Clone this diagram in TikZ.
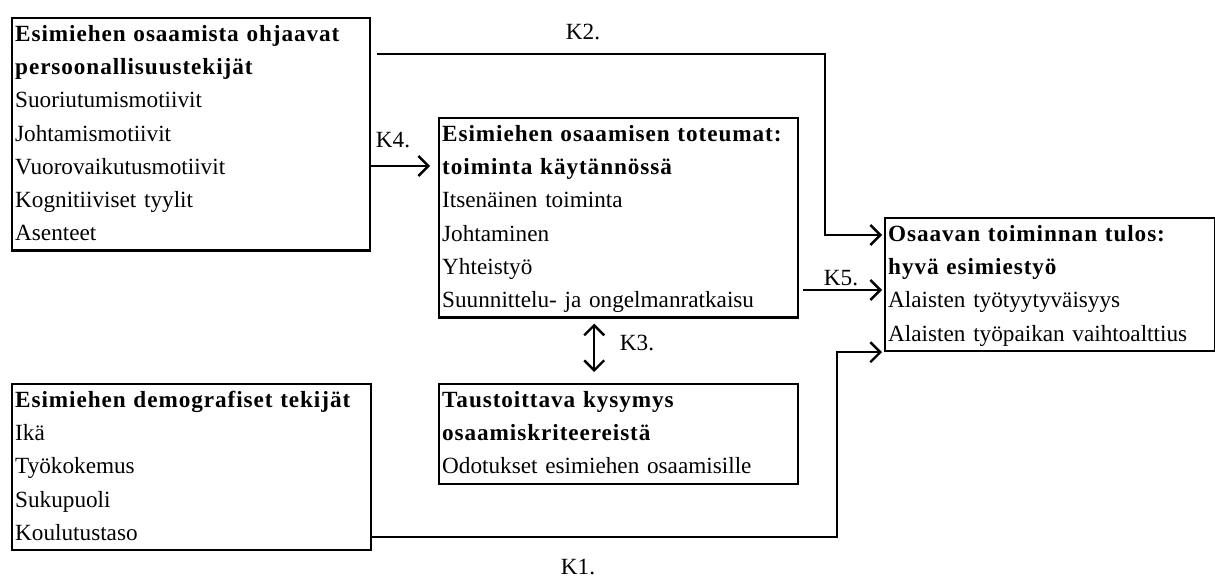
\documentclass[tikz,border=0pt]{standalone}
\usepackage{fontspec}
\setmainfont{Liberation Serif}
\newfontfamily\headfont[LetterSpace=4]{Liberation Serif}
\newcommand{\hd}[1]{{\headfont\bfseries #1}}
\usetikzlibrary{arrows.meta}

\begin{document}
\begin{tikzpicture}[x=0.5pt, y=-0.5pt,
    every node/.style={font=\fontsize{11.6}{16.6}\selectfont},
    box/.style={draw, line width=1.2pt, anchor=north west, align=left, inner xsep=1.5pt, inner ysep=0pt},
    arr/.style={line width=1.2pt, -{Straight Barb[length=5pt, width=10pt]}},
    arrd/.style={line width=1.2pt, {Straight Barb[length=5pt, width=10pt]}-{Straight Barb[length=5pt, width=10pt]}}]
      \useasboundingbox (0,0) rectangle (1215,577);
      \node (pers) at (11,17) [box, text width=176pt] {\strut\hd{Esimiehen osaamista ohjaavat}\\\hd{persoonallisuustekijät}\\Suoriutumismotiivit\\Johtamismotiivit\\Vuorovaikutusmotiivit\\Kognitiiviset tyylit\\Asenteet\strut};
      \node (tot) at (438,117) [box, text width=176.5pt] {\strut\hd{Esimiehen osaamisen toteumat:}\\\hd{toiminta käytännössä}\\Itsenäinen toiminta\\Johtaminen\\Yhteistyö\\Suunnittelu- ja ongelmanratkaisu\strut};
      \node (tulos) at (884,217) [box, text width=162pt] {\strut\hd{Osaavan toiminnan tulos:}\\\hd{hyvä esimiestyö}\\Alaisten työtyytyväisyys\\Alaisten työpaikan vaihtoalttius\strut};
      \node (demo) at (11,383) [box, text width=176.5pt] {\strut\hd{Esimiehen demografiset tekijät}\\Ikä\\Työkokemus\\Sukupuoli\\Koulutustaso\strut};
      \node (taust) at (438,383) [box, text width=176.5pt] {\strut\hd{Taustoittava kysymys}\\\hd{osaamiskriteereistä}\\Odotukset esimiehen osaamisille\strut};
      \coordinate (k2s) at (377,54);
      \coordinate (k4s) at (369,166);
      \coordinate (k5s) at (797,290);
      \coordinate (k1s) at (370,537);
      \draw[arr, shorten >=1pt] (k2s) -- (825,54) |- ([yshift=-9pt]tulos.north west);
      \draw[arr, shorten >=4pt] (k4s) -- (k4s -| tot.west);
      \draw[arr, shorten <=3pt, shorten >=1pt] (k5s) -- (k5s -| tulos.west);
      \draw[arr, shorten >=1pt] (k1s) -- (837,537) |- (tulos.south west);
      \draw[arrd, shorten <=2.5pt, shorten >=5.5pt] ([xshift=-12.25pt]tot.south) -- ([xshift=-12.25pt]taust.north);
      \node (k2) at (583,32) {K2.};
      \node (k4) at (393,140) {K4.};
      \node (k5) at (841,278) {K5.};
      \node (k3) at (637,343) {K3.};
      \node (k1) at (578,567) {K1.};
    \end{tikzpicture}
\end{document}
